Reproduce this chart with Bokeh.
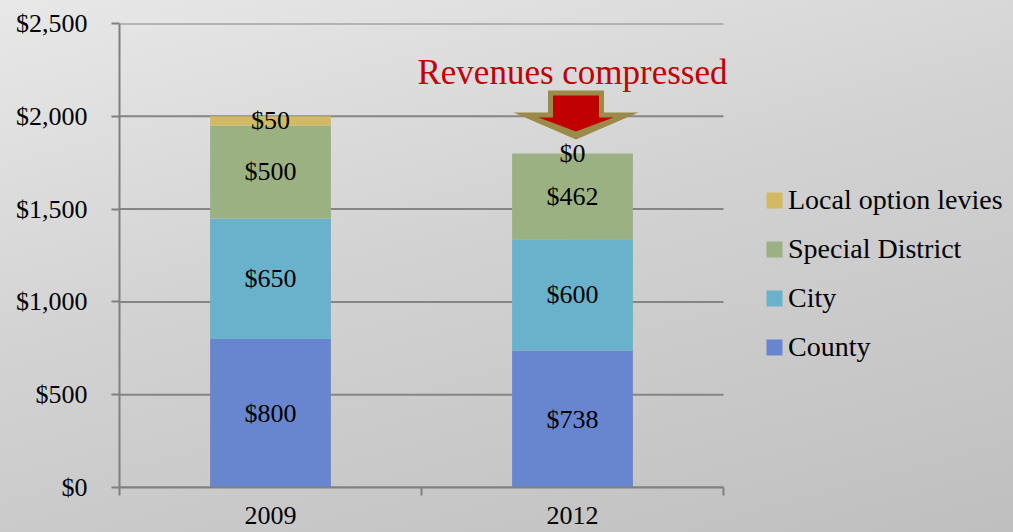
from bokeh.plotting import figure
from bokeh.models import (Range1d, FixedTicker, NumeralTickFormatter, Legend,
                          LegendItem, ColumnDataSource)
from bokeh.core.properties import value
from bokeh.embed import file_html
from bokeh.resources import INLINE

# ---------------- data ----------------
categories = ["2009", "2012"]
series = ["County", "City", "Special District", "Local option levies"]
county = [800, 738]
city = [650, 600]
special = [500, 462]
local = [50, 0]
colors = ["#6885cf", "#6ab2cb", "#9cb182", "#d2ba63"]
y_ticks = [0, 500, 1000, 1500, 2000, 2500]
callout_text = "Revenues compressed"
callout_category = "2012"

FONT = "Liberation Serif"

n = len(categories)
x_pos = [i + 0.5 for i in range(n)]
values = [county, city, special, local]

src = ColumnDataSource(dict(x=x_pos, **{s: v for s, v in zip(series, values)}))

# frame spans to the right edge so the legend can sit inside it;
# the category area covers [0, n] (302 px per category)
x_end = n * 894 / 604
p = figure(width=1013, height=532, output_backend="svg", toolbar_location=None,
           x_range=Range1d(0, x_end), y_range=Range1d(0, 2500),
           min_border_left=119, min_border_right=0, min_border_top=23,
           min_border_bottom=45)
p.background_fill_alpha = 0
p.border_fill_alpha = 0
p.outline_line_color = None
p.styles = {"background": "linear-gradient(165deg, #e8e8e8 0%, #d2d2d2 45%, #bfbfbf 100%)"}

# horizontal gridlines limited to the category area
p.segment(x0=[0] * len(y_ticks), x1=[n] * len(y_ticks), y0=y_ticks, y1=y_ticks,
          line_color="#858585", line_width=2)

renderers = p.vbar_stack(series, x="x", width=0.4, source=src, color=colors,
                         line_color=None)

# segment labels
lx, ly, lt = [], [], []
for i, xc in enumerate(x_pos):
    base = 0
    for v in values:
        vv = v[i]
        lx.append(xc)
        ly.append(base + vv / 2)
        lt.append("${:,}".format(vv))
        base += vv
p.text(x=lx, y=ly, text=lt, text_font=value(FONT), text_font_size="26px",
       text_align="center", text_baseline="middle", text_color="#000000")

# callout arrow (decoration anchored on the 2012 category)
ci = categories.index(callout_category) + 0.5 + 0.0116
outer_hw, outer_wing, outer_top, outer_wy, outer_tip = 0.0927, 0.207, 2139, 2020, 1875
inner_hw, inner_wing, inner_top, inner_wy, inner_tip = 0.076, 0.124, 2112, 1994, 1918
p.patch([ci - outer_hw, ci + outer_hw, ci + outer_hw, ci + outer_wing, ci,
         ci - outer_wing, ci - outer_hw],
        [outer_top, outer_top, outer_wy, outer_wy, outer_tip, outer_wy, outer_wy],
        fill_color="#9b8a48", line_color=None)
p.patch([ci - inner_hw, ci + inner_hw, ci + inner_hw, ci + inner_wing, ci,
         ci - inner_wing, ci - inner_hw],
        [inner_top, inner_top, inner_wy, inner_wy, inner_tip, inner_wy, inner_wy],
        fill_color="#c00000", line_color=None)
p.text(x=[categories.index(callout_category) + 0.5], y=[2236], text=[callout_text],
       text_font=value(FONT), text_font_size="35px", text_align="center",
       text_baseline="middle", text_color="#c00000")

# axes
xa = p.xaxis[0]
xa.bounds = (0, n)
xa.ticker = FixedTicker(ticks=x_pos, minor_ticks=list(range(n + 1)))
xa.major_label_overrides = {x: c for x, c in zip(x_pos, categories)}
xa.major_tick_out = 0
xa.major_tick_in = 0
xa.minor_tick_out = 8
xa.minor_tick_in = 0
xa.minor_tick_line_color = "#808080"
xa.minor_tick_line_width = 2
xa.axis_line_color = "#808080"
xa.axis_line_width = 2
xa.major_label_text_font = FONT
xa.major_label_text_font_size = "26px"
xa.major_label_text_color = "#000000"
xa.major_label_standoff = 11

ya = p.yaxis[0]
ya.ticker = FixedTicker(ticks=y_ticks)
ya.formatter = NumeralTickFormatter(format="$0,0")
ya.major_tick_out = 8
ya.major_tick_in = 0
ya.minor_tick_line_color = None
ya.major_tick_line_color = "#808080"
ya.major_tick_line_width = 2
ya.axis_line_color = "#808080"
ya.axis_line_width = 2
ya.major_label_text_font = FONT
ya.major_label_text_font_size = "26px"
ya.major_label_text_color = "#000000"
ya.major_label_standoff = 24

p.xgrid.visible = False
p.ygrid.visible = False

# legend
items = [LegendItem(label=s, renderers=[r]) for s, r in zip(series, renderers)][::-1]
legend = Legend(items=items, location=(645, 124), padding=0, margin=0,
                spacing=17, glyph_width=20, glyph_height=20, label_height=22,
                label_standoff=4, label_text_font=FONT, label_text_font_size="28px",
                label_text_color="#000000", background_fill_alpha=0,
                border_line_color=None)
p.add_layout(legend, "center")

open("out.html", "w").write(file_html(p, INLINE))
